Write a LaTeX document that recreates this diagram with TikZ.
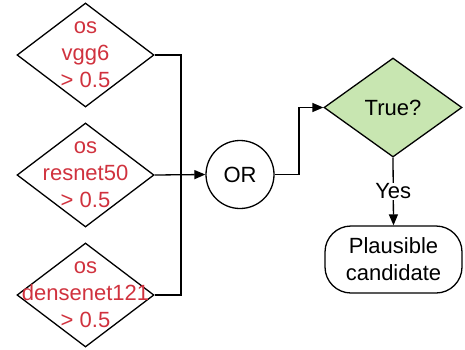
\documentclass[tikz,border=0pt]{standalone}
\usepackage{fontspec}
\setmainfont{Liberation Sans}
\usetikzlibrary{shapes.geometric,arrows.meta}
\definecolor{redtxt}{HTML}{D0323E}
\definecolor{greenfill}{HTML}{C8E6B1}
\tikzset{
  line/.style={draw=black, line width=1.3pt},
  arr/.style={line, -{Triangle[length=11pt,width=9pt]}},
  dia/.style={diamond, line, inner sep=0pt, minimum width=137pt, minimum height=104pt},
  redlab/.style={text=redtxt, font=\fontsize{22}{27}\selectfont, align=center},
  blk/.style={font=\fontsize{22}{27}\selectfont, align=center}
}
\begin{document}
\begin{tikzpicture}[x=1pt,y=-1pt]
\useasboundingbox (0,0) rectangle (465,349);
\node[dia, label={[redlab]center:os\\vgg6\\> 0.5}] (d1) at (85.5,55) {};
\node[dia, label={[redlab]center:os\\resnet50\\> 0.5}] (d2) at (85.5,175) {};
\node[dia, label={[redlab]center:os\\densenet121\\> 0.5}] (d3) at (85.5,295) {};
\node[circle, line, minimum size=68pt, inner sep=0pt, blk] (or) at (240,174.5) {OR};
\node[diamond, line, fill=greenfill, inner sep=0pt, minimum width=138pt, minimum height=99pt, label={[blk]center:True?}] (tr) at (393,107.5) {};
\node[line, rounded corners=26pt, minimum width=137pt, minimum height=67pt, inner sep=0pt, blk] (pc) at (393.5,259.5) {Plausible\\candidate};
\coordinate (bus) at (181,55);
\draw[line] (d1.east) -- (bus) |- (d3.east);
\draw[arr] (d2.east) -- (or.west);
\coordinate (jog) at (299,174.5);
\draw[arr] (or.east) -- (jog) |- (tr.west);
\draw[arr] (tr.south) -- node[fill=white, blk, inner sep=1pt] {Yes} (pc.north);
\end{tikzpicture}
\end{document}
